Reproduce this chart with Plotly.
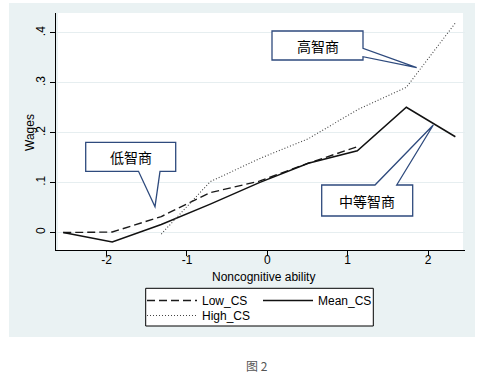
import plotly.graph_objects as go

# ---- data ----
x_bins = [-2.54, -1.93, -1.32, -0.71, -0.10, 0.51, 1.12, 1.73, 2.34]
low_cs = [0.000, 0.001, 0.032, 0.080, 0.103, 0.139, 0.172, None, None]
mean_cs = [0.000, -0.019, 0.016, 0.057, 0.100, 0.139, 0.164, 0.251, 0.192]
high_cs = [None, None, -0.003, 0.102, 0.148, 0.188, 0.246, 0.291, 0.420]

x_ticks = [-2, -1, 0, 1, 2]
x_tick_text = ["-2", "-1", "0", "1", "2"]
y_ticks = [0, 0.1, 0.2, 0.3, 0.4]
y_tick_text = ["0", ".1", ".2", ".3", ".4"]

callouts = ["高智商", "低智商", "中等智商"]
x_title = "Noncognitive ability"
y_title = "Wages"
caption = "图 2"

# ---- layout geometry (pixels) ----
W, H = 489, 382
L, R, T, B = 56, 465, 13, 250
PW, PH = R - L, B - T


def px(x):
    return (x - L) / PW


def py(y):
    return (B - y) / PH


def path(points):
    return "M" + " L".join(f"{px(a):.5f},{py(b):.5f}" for a, b in points) + " Z"


FONT = "Liberation Sans, Arial, sans-serif"
CJK = "Noto Sans CJK SC, sans-serif"

fig = go.Figure()
fig.add_trace(go.Scatter(x=x_bins, y=low_cs, mode="lines", name="Low_CS",
                         line=dict(color="#1a1a1a", width=1.4, dash="8px,4px"),
                         legend="legend"))
fig.add_trace(go.Scatter(x=x_bins, y=mean_cs, mode="lines", name="Mean_CS",
                         line=dict(color="#111111", width=1.5),
                         legend="legend"))
fig.add_trace(go.Scatter(x=x_bins, y=high_cs, mode="lines", name="High_CS",
                         line=dict(color="#444444", width=1.1, dash="1px,2px"),
                         legend="legend2"))

shapes = [
    dict(type="rect", xref="paper", yref="paper", x0=px(9), x1=px(475), y0=py(337), y1=py(3),
         fillcolor="#EAF2F3", line=dict(width=0), layer="below"),
    dict(type="rect", xref="paper", yref="paper", x0=px(58), x1=px(463), y0=py(250), y1=py(13),
         fillcolor="white", line=dict(width=0), layer="below"),
    dict(type="rect", xref="paper", yref="paper", x0=px(145.7), x1=px(373.3), y0=py(326), y1=py(288.3),
         fillcolor="white", line=dict(color="black", width=1), layer="below"),
]
edge = dict(color="#2E4A7D", width=1.3)
shapes.append(dict(type="path", xref="paper", yref="paper", layer="above",
                   path=path([(272, 31), (363, 31), (363, 48.3), (416.7, 67.7), (363, 56.7), (363, 60), (272, 60)]),
                   fillcolor="white", line=edge))
shapes.append(dict(type="path", xref="paper", yref="paper", layer="above",
                   path=path([(85.7, 142.3), (175.7, 142.3), (175.7, 171.3), (160, 171.3), (155, 206.7), (138.5, 171.3), (85.7, 171.3)]),
                   fillcolor="white", line=edge))
shapes.append(dict(type="path", xref="paper", yref="paper", layer="above",
                   path=path([(321.7, 185), (375, 185), (433.3, 125), (396.7, 185), (412.7, 185), (412.7, 216), (321.7, 216)]),
                   fillcolor="white", line=edge))

centers = [(317.5, 45.5), (130.7, 156.8), (367.2, 200.5)]
annotations = []
for txt, (cx, cy) in zip(callouts, centers):
    annotations.append(dict(text=txt, xref="paper", yref="paper", x=px(cx), y=py(cy),
                            showarrow=False, xanchor="center", yanchor="middle",
                            font=dict(family=CJK, size=14, color="black")))
annotations.append(dict(text=caption, xref="paper", yref="paper", x=px(257), y=py(365),
                        showarrow=False, xanchor="center", yanchor="middle",
                        font=dict(family=CJK, size=12, color="#555555")))
annotations.append(dict(text=x_title, xref="paper", yref="paper", x=px(263), y=py(277),
                        showarrow=False, xanchor="center", yanchor="middle",
                        font=dict(family=FONT, size=12, color="black")))
annotations.append(dict(text=y_title, xref="paper", yref="paper", x=px(30), y=py(133),
                        showarrow=False, xanchor="center", yanchor="middle", textangle=-90,
                        font=dict(family=FONT, size=12, color="black")))

fig.update_layout(
    width=W, height=H,
    margin=dict(l=L, r=W - R, t=T, b=H - B, autoexpand=False),
    paper_bgcolor="white", plot_bgcolor="white",
    font=dict(family=FONT, size=12, color="black"),
    shapes=shapes, annotations=annotations,
    xaxis=dict(range=[-2.63, 2.46], tickvals=x_ticks, ticktext=x_tick_text, ticks="outside", ticklen=5,
               tickcolor="black", showline=True, linecolor="black", linewidth=1,
               showgrid=False, zeroline=False, tickfont=dict(size=12), ticklabelstandoff=-6),
    yaxis=dict(range=[-0.035, 0.44], tickvals=y_ticks, ticktext=y_tick_text, tickangle=-90,
               ticks="outside", ticklen=5, tickcolor="black", showline=True,
               linecolor="black", linewidth=1, showgrid=True, gridcolor="#E6EEF0",
               gridwidth=1, zeroline=False, tickfont=dict(size=12)),
    legend=dict(orientation="h", x=px(142), y=py(286), xanchor="left", yanchor="top",
                entrywidth=51, itemwidth=50, bgcolor="rgba(0,0,0,0)", borderwidth=0,
                font=dict(size=12), traceorder="normal"),
    legend2=dict(orientation="h", x=px(142), y=py(301), xanchor="left", yanchor="top",
                 entrywidth=51, itemwidth=50, bgcolor="rgba(0,0,0,0)", borderwidth=0,
                 font=dict(size=12)),
    showlegend=True,
)

fig.write_html("out.html", config={"displayModeBar": False},
               post_script="document.body.style.margin='0';")
